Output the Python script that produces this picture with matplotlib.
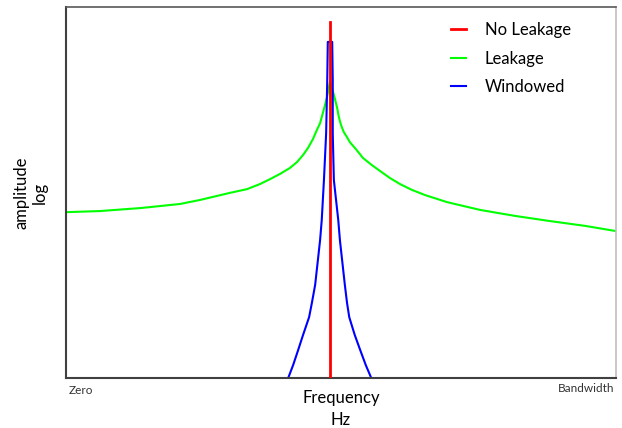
import matplotlib.pyplot as plt

plt.rcParams['font.family'] = ['Lato', 'DejaVu Sans']

# frequency axis runs 0 (Zero) .. 100 (Bandwidth), amplitude 0 .. 100 (log, arbitrary)
leak_x = [0.0, 6.2, 13.5, 20.7, 24.4, 29.8, 32.9, 35.3, 37.1, 38.9, 40.7, 42.0, 43.1,
          44.0, 44.9, 45.6, 46.2, 46.7, 47.1, 47.5, 48.0,
          48.5, 48.9, 49.3, 49.6, 50.0, 50.5, 51.1, 51.6, 52.7, 54.0, 55.6, 57.1, 58.9,
          60.7, 62.9, 65.3, 69.3, 75.3, 81.6, 88.0, 94.4, 100.0]
leak_y = [44.7, 45.0, 45.8, 46.9, 48.0, 49.9, 50.9, 52.3, 53.6, 55.0, 56.6, 58.2, 60.1,
          62.0, 64.4, 66.8, 68.7, 71.4, 73.6, 76.0, 79.8,
          77.4, 75.2, 72.8, 70.4, 68.2, 66.3, 64.9, 63.6, 61.7, 59.3, 57.4, 55.8, 53.9,
          52.3, 50.7, 49.3, 47.4, 45.3, 43.7, 42.3, 41.0, 39.6]

win_x = [40.4, 41.3, 42.2, 43.1, 44.2, 44.7, 45.3, 45.8, 46.2, 46.5, 46.9, 47.3, 47.5,
         47.6, 48.4, 48.5, 48.5, 48.7, 49.5, 49.8, 50.2, 50.7, 51.1, 51.5, 52.5, 53.5,
         54.5, 55.5]
win_y = [0.0, 3.5, 7.5, 11.6, 16.4, 20.2, 25.1, 31.8, 37.2, 42.6, 53.4, 66.0, 80.3,
         90.6, 90.6, 80.3, 66.0, 53.4, 42.6, 37.2, 31.8, 25.1, 20.2, 16.4, 11.6, 7.5,
         3.5, 0.0]

tone_x = [48.0, 48.0]
tone_y = [0.0, 96.0]

fig = plt.figure(figsize=(6.22, 4.28), dpi=100)
ax = fig.add_axes([66 / 622, 50 / 428, 550 / 622, 371 / 428])

ax.plot(tone_x, tone_y, color='#ff0000', lw=2.0, label='No Leakage', zorder=3)
ax.plot(leak_x, leak_y, color='#00ff00', lw=1.5, label='Leakage', zorder=1)
ax.plot(win_x, win_y, color='#0000ff', lw=1.5, label='Windowed', zorder=2)

ax.set_xlim(0, 100)
ax.set_ylim(0, 100)
ax.set_xticks([])
ax.set_yticks([])

for side in ['left', 'bottom']:
    ax.spines[side].set_color('#404040')
    ax.spines[side].set_linewidth(1.5)
ax.spines['top'].set_color('#595959')
ax.spines['top'].set_linewidth(1.2)
ax.spines['right'].set_color('#bfbfbf')
ax.spines['right'].set_linewidth(1.2)

ax.text(0.005, -0.02, 'Zero', transform=ax.transAxes, ha='left', va='top',
        fontsize=8.5, color='#333333')
ax.text(0.997, -0.013, 'Bandwidth', transform=ax.transAxes, ha='right', va='top',
        fontsize=8.5, color='#333333')

ax.set_xlabel('Frequency\nHz', fontsize=12, labelpad=9, linespacing=1.4)
ax.set_ylabel('amplitude\nlog', fontsize=12, labelpad=13, linespacing=1.2)

ax.legend(loc='upper right', bbox_to_anchor=(0.945, 1.0), frameon=False, fontsize=12,
          handlelength=0.9, handletextpad=1.1, labelspacing=0.75)

fig.savefig('out.png', dpi=100)
